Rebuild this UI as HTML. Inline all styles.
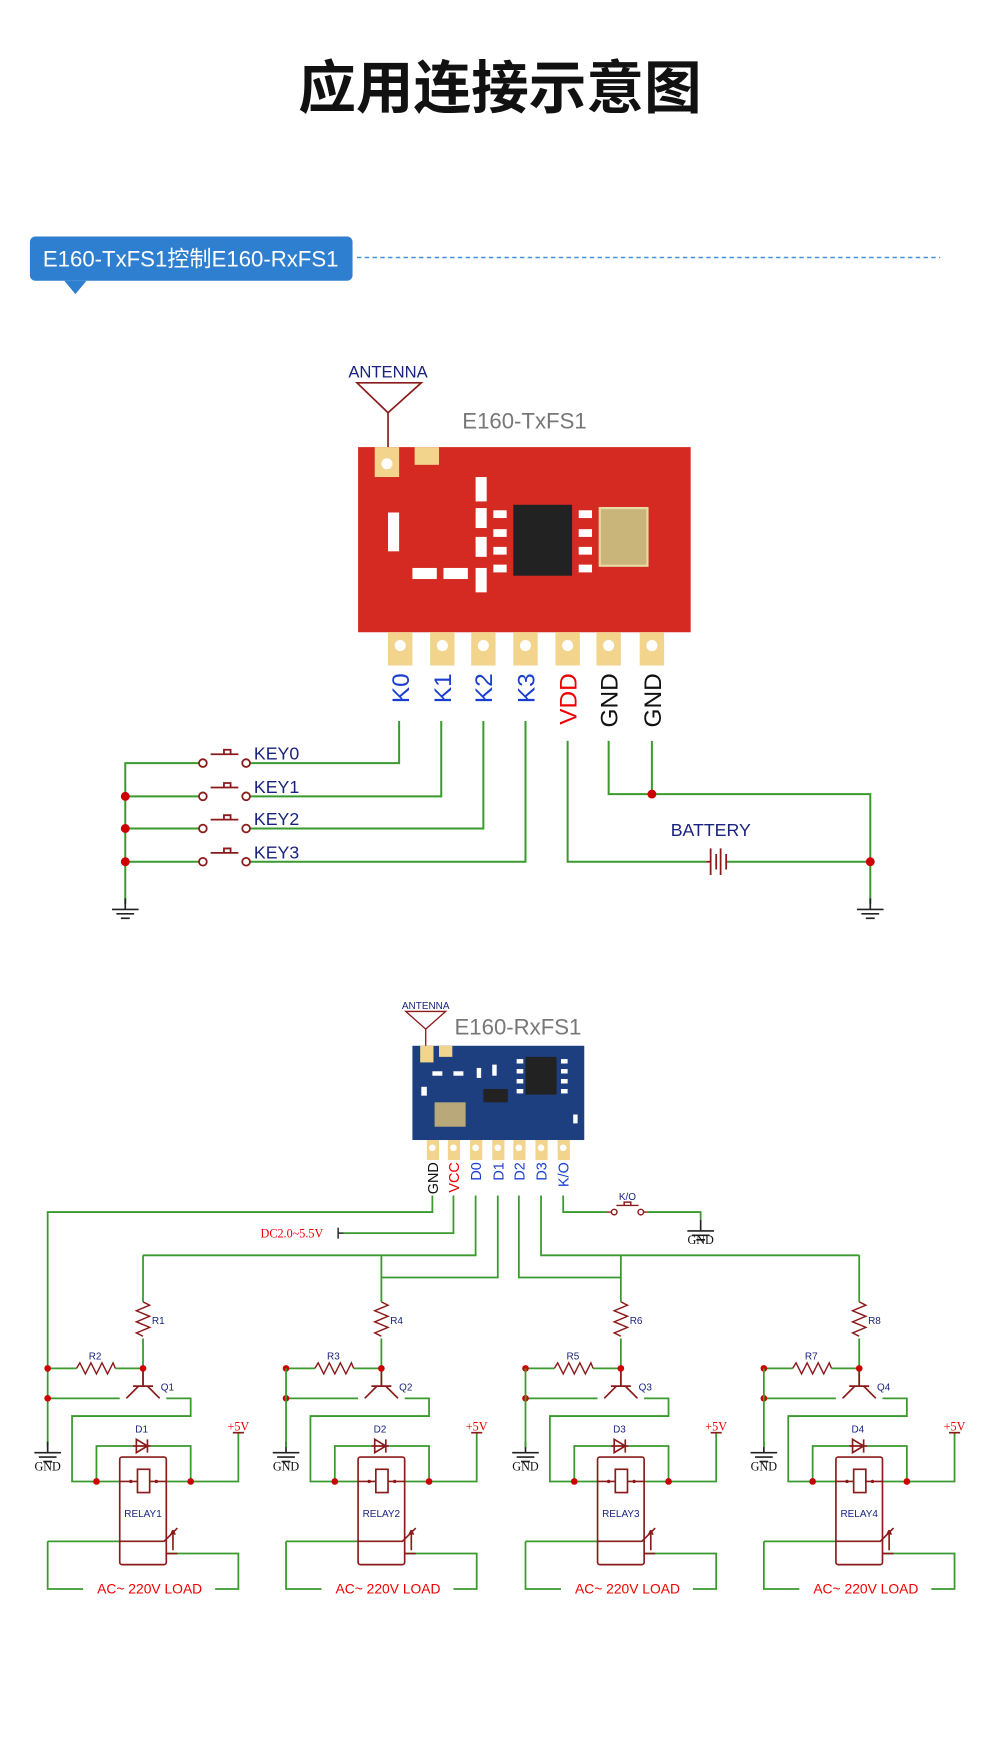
<!DOCTYPE html>
<html><head><meta charset="utf-8"><style>html,body{margin:0;padding:0;background:#fff}svg{display:block}</style></head><body>
<svg width="1000" height="1739" viewBox="0 0 902 1568" xmlns="http://www.w3.org/2000/svg" font-family="Liberation Sans, Noto Sans CJK SC, sans-serif">
<defs>
<g id="gnd"><line x1="0" y1="0" x2="0" y2="10" stroke="#222" stroke-width="1.5"/><line x1="-12" y1="10" x2="12" y2="10" stroke="#222" stroke-width="1.5"/><line x1="-8" y1="14" x2="8" y2="14" stroke="#222" stroke-width="1.5"/><line x1="-4" y1="18" x2="4" y2="18" stroke="#222" stroke-width="1.5"/></g>
<g id="ch">
<g fill="none" stroke="#3a9a2e" stroke-width="1.6">
<path d="M129 1132 V1174 M129 1207 V1250"/>
<path d="M43 1234 H69 M104 1234 H129"/>
<path d="M43 1261 H108 M150 1261 H172 V1277 H65 V1336 H108"/>
<path d="M87 1336 V1304 H120 M136 1304 H172 V1336 M150 1336 H215 V1292"/>
<path d="M43 1390 H108 M150 1401 H215 V1433 H194 M75 1433 H43 V1390"/>
</g>
<path d="M129 1174 l6 3 -12 5 12 5 -12 5 12 5 -12 5 6 3" fill="none" stroke="#8b1a1a" stroke-width="1.3"/>
<path d="M69 1234 l3 -5 5 10 5 -10 5 10 5 -10 5 10 5 -10 2 5" fill="none" stroke="#8b1a1a" stroke-width="1.3"/>
<g stroke="#8b1a1a" stroke-width="1.5" fill="none">
<line x1="129" y1="1234" x2="129" y2="1250"/><line x1="120" y1="1250" x2="138" y2="1250"/>
<line x1="125" y1="1250" x2="114" y2="1261"/><line x1="133" y1="1250" x2="144" y2="1261"/>
<path d="M120 1304 H136 M123 1298 V1310 L133 1304 Z M133 1298 V1310"/>
<rect x="108" y="1314" width="42" height="97" rx="2"/>
<rect x="124" y="1325" width="11" height="21"/>
<path d="M108 1336 H124 M135 1336 H150"/>
<path d="M108 1390 H148 L160 1378 M150 1401 H160 M156 1398 V1380 l-2 4 M156 1380 l2 4"/>
<path d="M210 1292 H220"/>
</g>
<g fill="#cc0000"><circle cx="129" cy="1234" r="3"/><circle cx="43" cy="1234" r="3"/><circle cx="43" cy="1261" r="3"/><circle cx="87" cy="1336" r="3"/><circle cx="172" cy="1336" r="3"/></g>
<g fill="#8b1a1a"><circle cx="118" cy="1336" r="1.5"/><circle cx="141" cy="1336" r="1.5"/></g>
<text x="135" y="1437" font-size="12.5" fill="#e00" text-anchor="middle">AC~ 220V LOAD</text>
<text x="215" y="1290" font-size="11" fill="#e00" text-anchor="middle" font-family="Liberation Serif, serif">+5V</text>
</g>
</defs>

<text x="451" y="97" font-size="52" font-weight="bold" text-anchor="middle" fill="#111">应用连接示意图</text>

<rect x="27" y="213" width="291" height="40" rx="5" fill="#2f7fd0"/>
<path d="M58 253 L68 265 L78 253 Z" fill="#2f7fd0"/>
<text x="172" y="240" font-size="20" fill="#fff" text-anchor="middle">E160-TxFS1控制E160-RxFS1</text>
<line x1="322" y1="232" x2="848" y2="232" stroke="#4a90d9" stroke-width="1.3" stroke-dasharray="4,3"/>

<!-- TX module -->
<text x="350" y="340" font-size="15" fill="#1a237e" text-anchor="middle">ANTENNA</text>
<path d="M322 345 L380 345 L350 372 Z M350 372 V403" fill="none" stroke="#8b1a1a" stroke-width="1.5"/>
<text x="417" y="386" font-size="20" fill="#777">E160-TxFS1</text>
<rect x="323" y="403" width="300" height="167" fill="#d42a22"/>
<rect x="338" y="403" width="22" height="27" fill="#f3d48c"/><circle cx="349" cy="418" r="5" fill="#fff"/>
<rect x="374" y="403" width="22" height="16" fill="#f3d48c"/>
<rect x="463" y="455" width="53" height="64" fill="#222"/>
<rect x="541" y="458" width="43" height="52" fill="#c9b47a" stroke="#e8d9a5" stroke-width="2"/>
<g fill="#fff"><rect x="445" y="460" width="12" height="7"/><rect x="445" y="477" width="12" height="7"/><rect x="445" y="493" width="12" height="7"/><rect x="445" y="509" width="12" height="7"/><rect x="522" y="460" width="12" height="7"/><rect x="522" y="477" width="12" height="7"/><rect x="522" y="493" width="12" height="7"/><rect x="522" y="509" width="12" height="7"/>
<rect x="429" y="430" width="10" height="22"/><rect x="429" y="458" width="10" height="18"/><rect x="429" y="484" width="10" height="18"/><rect x="350" y="462" width="10" height="35"/><rect x="372" y="512" width="22" height="10"/><rect x="400" y="512" width="22" height="10"/><rect x="429" y="512" width="10" height="22"/></g>
<g fill="#f3d48c"><rect x="350" y="570" width="22" height="30"/><rect x="388" y="570" width="22" height="30"/><rect x="425" y="570" width="22" height="30"/><rect x="463" y="570" width="22" height="30"/><rect x="501" y="570" width="22" height="30"/><rect x="538" y="570" width="22" height="30"/><rect x="577" y="570" width="22" height="30"/></g>
<g fill="#fff"><circle cx="361" cy="582" r="5"/><circle cx="399" cy="582" r="5"/><circle cx="436" cy="582" r="5"/><circle cx="474" cy="582" r="5"/><circle cx="512" cy="582" r="5"/><circle cx="549" cy="582" r="5"/><circle cx="588" cy="582" r="5"/></g>
<g font-size="22" text-anchor="end">
<text transform="translate(369,607) rotate(-90)" fill="#1a3fd0">K0</text>
<text transform="translate(407,607) rotate(-90)" fill="#1a3fd0">K1</text>
<text transform="translate(444,607) rotate(-90)" fill="#1a3fd0">K2</text>
<text transform="translate(482,607) rotate(-90)" fill="#1a3fd0">K3</text>
<text transform="translate(520,607) rotate(-90)" fill="#e00">VDD</text>
<text transform="translate(557,607) rotate(-90)" fill="#111">GND</text>
<text transform="translate(596,607) rotate(-90)" fill="#111">GND</text>
</g>
<g fill="none" stroke="#3a9a2e" stroke-width="1.8">
<path d="M360 650 V688 H222 M183 688 H113 V815"/>
<path d="M398 650 V718 H222 M183 718 H113"/>
<path d="M436 650 V747 H222 M183 747 H113"/>
<path d="M474 650 V777 H222 M183 777 H113"/>
<path d="M512 668 V777 H637 M655 777 H785 V815"/>
<path d="M549 668 V716 H785 V777 M588 668 V716"/>
</g>
<g stroke="#8b1a1a" stroke-width="1.6" fill="none">
<path d="M190 680 H215 M202 680 V676 H208 V680"/>
<path d="M190 710 H215 M202 710 V706 H208 V710"/>
<path d="M190 739 H215 M202 739 V735 H208 V739"/>
<path d="M190 769 H215 M202 769 V765 H208 V769"/>
<circle cx="183" cy="688" r="3.5" fill="#fff"/><circle cx="222" cy="688" r="3.5" fill="#fff"/>
<circle cx="183" cy="718" r="3.5" fill="#fff"/><circle cx="222" cy="718" r="3.5" fill="#fff"/>
<circle cx="183" cy="747" r="3.5" fill="#fff"/><circle cx="222" cy="747" r="3.5" fill="#fff"/>
<circle cx="183" cy="777" r="3.5" fill="#fff"/><circle cx="222" cy="777" r="3.5" fill="#fff"/>
<path d="M637 777 H641 M641 765 V789 M646 770 V784 M650 765 V789 M655 770 V784"/>
</g>
<g font-size="16" fill="#1a237e"><text x="229" y="685">KEY0</text><text x="229" y="715">KEY1</text><text x="229" y="744">KEY2</text><text x="229" y="774">KEY3</text><text x="605" y="754">BATTERY</text></g>
<g fill="#cc0000"><circle cx="113" cy="718" r="4"/><circle cx="113" cy="747" r="4"/><circle cx="113" cy="777" r="4"/><circle cx="588" cy="716" r="4"/><circle cx="785" cy="777" r="4"/></g>
<use href="#gnd" x="113" y="810"/><use href="#gnd" x="785" y="810"/>

<!-- RX module -->
<text x="384" y="910" font-size="9" fill="#1a237e" text-anchor="middle">ANTENNA</text>
<path d="M366 912 L402 912 L384 928 Z M384 928 V945" fill="none" stroke="#8b1a1a" stroke-width="1.2"/>
<text x="410" y="933" font-size="20" fill="#777">E160-RxFS1</text>
<rect x="372" y="943" width="155" height="85" fill="#1d3f7f"/>
<rect x="379" y="943" width="12" height="15" fill="#f3d48c"/><rect x="396" y="943" width="12" height="10" fill="#f3d48c"/>
<rect x="474" y="953" width="28" height="34" fill="#222"/>
<rect x="436" y="982" width="22" height="12" fill="#222"/>
<rect x="392" y="994" width="28" height="22" fill="#b8a87a"/>
<g fill="#fff"><rect x="380" y="980" width="5" height="8"/><rect x="390" y="966" width="9" height="4"/><rect x="409" y="966" width="9" height="4"/><rect x="430" y="963" width="4" height="9"/><rect x="444" y="960" width="4" height="10"/><rect x="466" y="955" width="6" height="4"/><rect x="466" y="964" width="6" height="4"/><rect x="466" y="973" width="6" height="4"/><rect x="466" y="982" width="6" height="4"/><rect x="506" y="955" width="6" height="4"/><rect x="506" y="964" width="6" height="4"/><rect x="506" y="973" width="6" height="4"/><rect x="506" y="982" width="6" height="4"/><rect x="517" y="1005" width="4" height="8"/></g>
<g fill="#f3d48c"><rect x="385" y="1028" width="11" height="18"/><rect x="404" y="1028" width="11" height="18"/><rect x="424" y="1028" width="11" height="18"/><rect x="444" y="1028" width="11" height="18"/><rect x="463" y="1028" width="11" height="18"/><rect x="483" y="1028" width="11" height="18"/><rect x="503" y="1028" width="11" height="18"/></g>
<g fill="#fff"><circle cx="390" cy="1035" r="3"/><circle cx="409" cy="1035" r="3"/><circle cx="429" cy="1035" r="3"/><circle cx="449" cy="1035" r="3"/><circle cx="468" cy="1035" r="3"/><circle cx="488" cy="1035" r="3"/><circle cx="508" cy="1035" r="3"/></g>
<g font-size="13" text-anchor="end">
<text transform="translate(395,1048) rotate(-90)" fill="#111">GND</text>
<text transform="translate(414,1048) rotate(-90)" fill="#e00">VCC</text>
<text transform="translate(434,1048) rotate(-90)" fill="#1a3fd0">D0</text>
<text transform="translate(454,1048) rotate(-90)" fill="#1a3fd0">D1</text>
<text transform="translate(473,1048) rotate(-90)" fill="#1a3fd0">D2</text>
<text transform="translate(493,1048) rotate(-90)" fill="#1a3fd0">D3</text>
<text transform="translate(513,1048) rotate(-90)" fill="#1a3fd0">K/O</text>
</g>
<g fill="none" stroke="#3a9a2e" stroke-width="1.6">
<path d="M390 1078 V1093 H43 V1305"/>
<path d="M409 1078 V1112 H310"/>
<path d="M429 1078 V1132 H129"/>
<path d="M449 1078 V1152 H344"/>
<path d="M468 1078 V1152 H560"/>
<path d="M488 1078 V1132 H775"/>
<path d="M508 1078 V1093 H547 M584 1093 H632 V1100"/>
</g>
<path d="M305 1107 V1117 M305 1112 H310" stroke="#222" stroke-width="1.3"/>
<text x="235" y="1116" font-size="11" fill="#e00" font-family="Liberation Serif, serif">DC2.0~5.5V</text>
<g stroke="#8b1a1a" stroke-width="1.3" fill="none"><path d="M547 1093 H552 M580 1093 H584 M556 1087 H576 M563 1087 V1084 H569 V1087"/><circle cx="554" cy="1093" r="2.5" fill="#fff"/><circle cx="578" cy="1093" r="2.5" fill="#fff"/></g>
<text x="566" y="1082" font-size="9" fill="#1a237e" text-anchor="middle">K/O</text>
<use href="#gnd" x="632" y="1100"/>
<text x="632" y="1122" font-size="11" fill="#111" text-anchor="middle" font-family="Liberation Serif, serif">GND</text>

<use href="#ch"/>
<use href="#ch" x="215"/>
<use href="#ch" x="431"/>
<use href="#ch" x="646"/>
<g font-size="9" fill="#1a237e">
<text x="137" y="1194">R1</text><text x="352" y="1194">R4</text><text x="568" y="1194">R6</text><text x="783" y="1194">R8</text>
<text x="80" y="1226">R2</text><text x="295" y="1226">R3</text><text x="511" y="1226">R5</text><text x="726" y="1226">R7</text>
<text x="145" y="1254">Q1</text><text x="360" y="1254">Q2</text><text x="576" y="1254">Q3</text><text x="791" y="1254">Q4</text>
<text x="122" y="1292">D1</text><text x="337" y="1292">D2</text><text x="553" y="1292">D3</text><text x="768" y="1292">D4</text>
</g>
<g font-size="9" fill="#1a237e" text-anchor="middle"><text x="129" y="1368">RELAY1</text><text x="344" y="1368">RELAY2</text><text x="560" y="1368">RELAY3</text><text x="775" y="1368">RELAY4</text></g>
<use href="#gnd" x="43" y="1300"/><use href="#gnd" x="258" y="1300"/><use href="#gnd" x="474" y="1300"/><use href="#gnd" x="689" y="1300"/>
<path d="M258 1234 V1305 M474 1234 V1305 M689 1234 V1305" stroke="#3a9a2e" stroke-width="1.6"/>
<g font-size="11" fill="#111" text-anchor="middle" font-family="Liberation Serif, serif"><text x="43" y="1326">GND</text><text x="258" y="1326">GND</text><text x="474" y="1326">GND</text><text x="689" y="1326">GND</text></g>
</svg>
</body></html>
